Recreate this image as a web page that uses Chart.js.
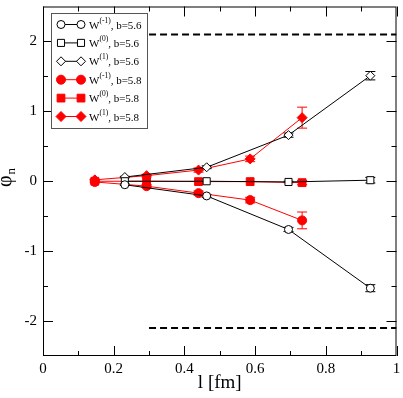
<!DOCTYPE html>
<html>
<head>
<meta charset="utf-8">
<script src="https://cdn.jsdelivr.net/npm/chart.js@4.4.1/dist/chart.umd.min.js"></script>
<style>
  html, body { margin: 0; padding: 0; background: #fff; }
  canvas { display: block; }
</style>
</head>
<body>
<canvas id="phiChart" width="403" height="398"></canvas>
<script>
// b=5.6 (black, open symbols)
const x_b56 = [0.2315, 0.463, 0.6945, 0.926];
const wm1_b56 = [-0.05, -0.21, -0.69, -1.53];
const w0_b56 = [0.0, 0.0, -0.01, 0.015];
const w1_b56 = [0.06, 0.2, 0.66, 1.51];
const err_wm1_b56 = [0.01, 0.02, 0.03, 0.05];
const err_w0_b56 = [0.0, 0.0, 0.01, 0.04];
const err_w1_b56 = [0.01, 0.02, 0.03, 0.06];

// b=5.8 (red, filled symbols)
const x_b58 = [0.1466, 0.293, 0.44, 0.586, 0.733];
const wm1_b58 = [-0.01, -0.07, -0.17, -0.27, -0.56];
const w0_b58 = [0.0, 0.0, -0.005, -0.005, -0.02];
const w1_b58 = [0.02, 0.08, 0.16, 0.32, 0.91];
const err_wm1_b58 = [0.01, 0.02, 0.03, 0.04, 0.12];
const err_w0_b58 = [0.0, 0.0, 0.0, 0.0, 0.03];
const err_w1_b58 = [0.01, 0.02, 0.03, 0.04, 0.15];

// dashed reference lines
const dash_x = [0.3, 1.0];
const dash_upper = [2.1, 2.1];
const dash_lower = [-2.1, -2.1];

const x_ticks = [0, 0.2, 0.4, 0.6, 0.8, 1];
const x_minor = [0.1, 0.3, 0.5, 0.7, 0.9];
const y_ticks = [-2, -1, 0, 1, 2];
const y_minor = [-1.5, -0.5, 0.5, 1.5];

const SERIF = '"Liberation Serif", "DejaVu Serif", serif';

function pts(xs, ys) {
  return xs.map((x, i) => ({x: x, y: ys[i]}));
}

function series(label, sup, xs, ys, errs, color, style, radius, fill) {
  return {
    label: label,
    sup: sup,
    data: pts(xs, ys),
    errors: errs,
    borderColor: color,
    borderWidth: 1,
    pointStyle: style,
    pointRadius: radius,
    pointHoverRadius: radius,
    pointBorderColor: color,
    pointBackgroundColor: fill,
    pointBorderWidth: 1,
    tension: 0
  };
}

function dashed(ys) {
  return {
    label: '',
    noLegend: true,
    data: pts(dash_x, ys),
    borderColor: '#000',
    borderWidth: 2,
    borderDash: [7, 4],
    pointRadius: 0,
    pointHoverRadius: 0
  };
}

const datasets = [
  series('W', '(-1)', x_b56, wm1_b56, err_wm1_b56, '#000', 'circle', 4, '#fff'),
  series('W', '(0)', x_b56, w0_b56, err_w0_b56, '#000', 'rect', 5, '#fff'),
  series('W', '(1)', x_b56, w1_b56, err_w1_b56, '#000', 'rectRot', 4.5, '#fff'),
  series('W', '(-1)', x_b58, wm1_b58, err_wm1_b58, '#ff0000', 'circle', 4.5, '#ff0000'),
  series('W', '(0)', x_b58, w0_b58, err_w0_b58, '#ff0000', 'rect', 5.5, '#ff0000'),
  series('W', '(1)', x_b58, w1_b58, err_w1_b58, '#ff0000', 'rectRot', 5, '#ff0000'),
  dashed(dash_upper),
  dashed(dash_lower)
];
const bLabels = ['b=5.6', 'b=5.6', 'b=5.6', 'b=5.8', 'b=5.8', 'b=5.8'];

// error bars drawn under the markers
const errorBars = {
  id: 'errorBars',
  beforeDatasetsDraw(chart) {
    const ctx = chart.ctx;
    const xs = chart.scales.x, ys = chart.scales.y;
    ctx.save();
    chart.data.datasets.forEach(ds => {
      if (!ds.errors) return;
      ctx.strokeStyle = ds.borderColor;
      ctx.lineWidth = 1;
      ds.data.forEach((p, i) => {
        const e = ds.errors[i];
        if (!e) return;
        const px = xs.getPixelForValue(p.x);
        const top = ys.getPixelForValue(p.y + e);
        const bot = ys.getPixelForValue(p.y - e);
        ctx.beginPath();
        ctx.moveTo(px, top); ctx.lineTo(px, bot);
        ctx.moveTo(px - 5, top); ctx.lineTo(px + 5, top);
        ctx.moveTo(px - 5, bot); ctx.lineTo(px + 5, bot);
        ctx.stroke();
      });
    });
    ctx.restore();
  }
};

// frame with inward ticks on all four sides
const frame = {
  id: 'frame',
  afterDatasetsDraw(chart) {
    const ctx = chart.ctx;
    const a = chart.chartArea;
    const xs = chart.scales.x, ys = chart.scales.y;
    ctx.save();
    ctx.strokeStyle = '#000';
    ctx.lineWidth = 1;
    ctx.strokeRect(a.left + 0.5, a.top + 0.5, a.right - a.left - 1, a.bottom - a.top - 1);
    ctx.beginPath();
    const xt = (v, len) => {
      const p = Math.round(xs.getPixelForValue(v)) + 0.5;
      ctx.moveTo(p, a.bottom); ctx.lineTo(p, a.bottom - len);
      ctx.moveTo(p, a.top); ctx.lineTo(p, a.top + len);
    };
    const yt = (v, len) => {
      const p = Math.round(ys.getPixelForValue(v)) + 0.5;
      ctx.moveTo(a.left, p); ctx.lineTo(a.left + len, p);
      ctx.moveTo(a.right, p); ctx.lineTo(a.right - len, p);
    };
    x_ticks.forEach(v => xt(v, 10));
    x_minor.forEach(v => xt(v, 5));
    y_ticks.forEach(v => yt(v, 10));
    y_minor.forEach(v => yt(v, 5));
    ctx.stroke();
    ctx.restore();
  }
};

// legend with superscripts
const legendBox = {
  id: 'legendBox',
  afterDraw(chart) {
    const ctx = chart.ctx;
    const bx = 51, by = 13, bw = 96, bh = 115;
    ctx.save();
    ctx.fillStyle = '#fff';
    ctx.fillRect(bx, by, bw, bh);
    ctx.strokeStyle = '#555';
    ctx.lineWidth = 1;
    ctx.strokeRect(bx + 0.5, by + 0.5, bw, bh);
    chart.data.datasets.forEach((ds, i) => {
      if (ds.noLegend) return;
      const y = 24.5 + i * 18.4;
      ctx.strokeStyle = ds.borderColor;
      ctx.lineWidth = 1;
      ctx.beginPath();
      ctx.moveTo(61, y); ctx.lineTo(81, y);
      ctx.stroke();
      ctx.fillStyle = ds.pointBackgroundColor;
      ctx.strokeStyle = ds.pointBorderColor;
      [61, 81].forEach(px => {
        Chart.helpers.drawPoint(ctx, {
          pointStyle: ds.pointStyle, radius: ds.pointRadius, rotation: 0, borderWidth: 1
        }, px, y);
      });
      ctx.fillStyle = '#000';
      ctx.textBaseline = 'alphabetic';
      ctx.font = '11px ' + SERIF;
      let tx = 89;
      ctx.fillText(ds.label, tx, y + 4);
      tx += ctx.measureText(ds.label).width;
      ctx.font = '7.5px ' + SERIF;
      ctx.fillText(ds.sup, tx, y - 2);
      tx += ctx.measureText(ds.sup).width;
      ctx.font = '11px ' + SERIF;
      ctx.fillText(', ' + bLabels[i], tx, y + 4);
    });
    ctx.restore();
  }
};

// rotated y-axis title with subscript
const yTitle = {
  id: 'yTitle',
  afterDraw(chart) {
    const ctx = chart.ctx;
    ctx.save();
    ctx.translate(11, 187);
    ctx.rotate(-Math.PI / 2);
    ctx.fillStyle = '#000';
    ctx.textBaseline = 'alphabetic';
    ctx.font = '20px ' + SERIF;
    ctx.fillText('φ', 0, 0);
    const w = ctx.measureText('φ').width;
    ctx.font = '13px ' + SERIF;
    ctx.fillText('n', w + 1, 4);
    ctx.restore();
  }
};

function fixWidth(w) {
  return scale => {
    scale.width = w;
    scale.paddingTop = 0; scale.paddingBottom = 0;
  };
}

new Chart(document.getElementById('phiChart'), {
  type: 'line',
  data: { datasets: datasets },
  options: {
    responsive: false,
    animation: false,
    devicePixelRatio: 1,
    layout: { padding: { top: 3, right: 5, left: 0, bottom: 0 } },
    plugins: {
      legend: { display: false },
      tooltip: { enabled: false }
    },
    scales: {
      x: {
        type: 'linear',
        min: 0, max: 1,
        afterBuildTicks: s => { s.ticks = x_ticks.map(v => ({value: v})); },
        afterFit: s => { s.height = 42; s.paddingLeft = 0; s.paddingRight = 0; },
        grid: { display: false, drawTicks: false },
        border: { display: false },
        ticks: {
          color: '#000',
          padding: 4,
          maxRotation: 0,
          autoSkip: false,
          callback: v => String(v),
          font: { family: SERIF, size: 15 }
        },
        title: {
          display: true,
          text: 'l [fm]',
          color: '#000',
          padding: { top: 0, bottom: 4 },
          font: { family: SERIF, size: 19 }
        }
      },
      y: {
        type: 'linear',
        min: -2.5, max: 2.5,
        afterBuildTicks: s => { s.ticks = y_ticks.map(v => ({value: v})); },
        afterFit: fixWidth(43),
        grid: { display: false, drawTicks: false },
        border: { display: false },
        ticks: {
          color: '#000',
          padding: 6,
          autoSkip: false,
          callback: v => String(v),
          font: { family: SERIF, size: 15 }
        }
      }
    }
  },
  plugins: [errorBars, frame, legendBox, yTitle]
});
</script>
</body>
</html>
